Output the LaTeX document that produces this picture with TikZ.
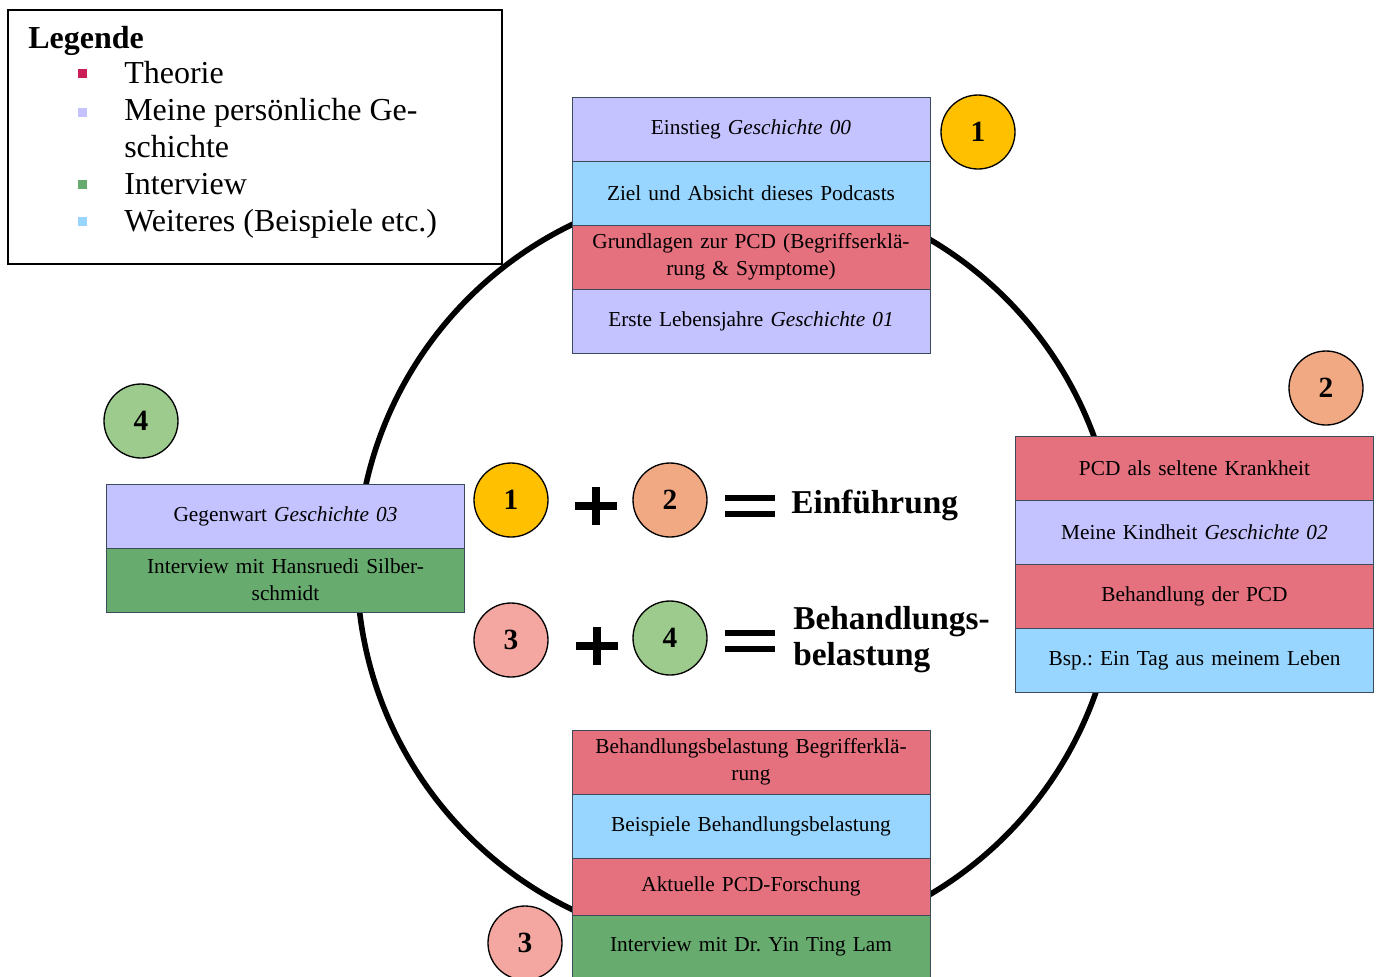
\documentclass[tikz,border=0pt]{standalone}
\usepackage{fontspec}
\setmainfont{Liberation Serif}
\usetikzlibrary{positioning}
\frenchspacing
\definecolor{storylav}{RGB}{196,194,255}
\definecolor{extrablue}{RGB}{153,214,255}
\definecolor{theoryred}{RGB}{229,112,126}
\definecolor{talkgreen}{RGB}{103,171,111}
\definecolor{theorymark}{RGB}{204,30,86}
\definecolor{boxline}{RGB}{60,75,90}
\definecolor{dotyellow}{RGB}{255,192,0}
\definecolor{dotorange}{RGB}{241,169,131}
\definecolor{dotpink}{RGB}{244,167,160}
\definecolor{dotgreen}{RGB}{157,203,141}
\tikzset{
  rowbox/.style={draw=boxline, line width=0.7pt, minimum width=268.5pt, minimum height=48pt,
    text width=262pt, align=center, inner sep=0pt, outer sep=0pt,
    font=\fontsize{16}{20}\selectfont},
  numdot/.style={circle, draw, line width=1pt, minimum size=55.5pt, inner sep=0pt,
    font=\fontsize{22}{22}\selectfont\bfseries},
  legtext/.style={anchor=base west, inner sep=0pt, font=\fontsize{24}{27.75}\selectfont},
  legmark/.style={inner sep=0pt, minimum size=6.75pt},
  opbar/.style={line width=6.2pt},
  eqbar/.style={line width=4.8pt},
}

\begin{document}
\begin{tikzpicture}[x=0.75pt, y=-0.75pt]
\clip (0,0) rectangle (1378,976);

% ring behind the boxes
\coordinate (hub) at (737,567);
\draw[line width=4.2pt] (hub) circle[radius=285pt];

% legend
\node[draw, line width=1.4pt, anchor=north west, minimum width=370.5pt, minimum height=190.5pt] (legend) at (7,9) {};
\node[legtext, font=\fontsize{24}{27.75}\selectfont\bfseries] (legtitle) at (28,48) {Legende};
\node[legmark, fill=theorymark] (mark1) at (82,73) {};
\node[legmark, fill=storylav] (mark2) at (82,112) {};
\node[legmark, fill=talkgreen] (mark3) at (82,184) {};
\node[legmark, fill=extrablue] (mark4) at (82,221) {};
\node[legtext] (legtheory) at (124,83) {Theorie};
\node[legtext, align=left] (legstory) at (124,157) {Meine persönliche Ge-\\schichte};
\node[legtext] (legtalk) at (124,194) {Interview};
\node[legtext] (legmore) at (124,231) {Weiteres (Beispiele etc.)};

% part 1 (top)
\node[rowbox, fill=storylav, anchor=north] (t1) at (751,97) {Einstieg \textit{Geschichte 00}};
\node[rowbox, fill=extrablue, below=0pt of t1] (t2) {Ziel und Absicht dieses Podcasts};
\node[rowbox, fill=theoryred, below=0pt of t2] (t3) {Grundlagen zur PCD (Begriffserklä-\\rung \& Symptome)};
\node[rowbox, fill=storylav, below=0pt of t3] (t4) {Erste Lebensjahre \textit{Geschichte 01}};
\node[numdot, fill=dotyellow] (n1) at (978,132) {1};

% part 2 (right)
\node[rowbox, fill=theoryred, anchor=north] (r1) at (1194.5,436) {PCD als seltene Krankheit};
\node[rowbox, fill=storylav, below=0pt of r1] (r2) {Meine Kindheit \textit{Geschichte 02}};
\node[rowbox, fill=theoryred, below=0pt of r2] (r3) {Behandlung der PCD};
\node[rowbox, fill=extrablue, below=0pt of r3] (r4) {Bsp.: Ein Tag aus meinem Leben};
\node[numdot, fill=dotorange] (n2) at (1326,388) {2};

% part 3 (bottom)
\node[rowbox, fill=theoryred, anchor=north] (b1) at (751,730) {Behandlungsbelastung Begrifferklä-\\rung};
\node[rowbox, fill=extrablue, below=0pt of b1] (b2) {Beispiele Behandlungsbelastung};
\node[rowbox, fill=theoryred, minimum height=42.75pt, below=0pt of b2] (b3) {Aktuelle PCD-Forschung};
\node[rowbox, fill=talkgreen, below=0pt of b3] (b4) {Interview mit Dr. Yin Ting Lam};
\node[numdot, fill=dotpink] (n3) at (525,943) {3};

% part 4 (left)
\node[rowbox, fill=storylav, anchor=north] (l1) at (285.5,484) {Gegenwart \textit{Geschichte 03}};
\node[rowbox, fill=talkgreen, below=0pt of l1] (l2) {Interview mit Hansruedi Silber-\\schmidt};
\node[numdot, fill=dotgreen] (n4) at (141,421) {4};

% sums in the middle
\node[numdot, fill=dotyellow] (s1) at (511,500) {1};
\node[numdot, fill=dotorange] (s2) at (670,500) {2};
\node[numdot, fill=dotpink] (s3) at (511,640) {3};
\node[numdot, fill=dotgreen] (s4) at (670,638) {4};
\coordinate (plusA) at (596,506);
\coordinate (plusB) at (597,646);
\coordinate (eqA) at (750,506);
\coordinate (eqB) at (750,641);
\foreach \p in {plusA,plusB}{
  \draw[opbar] ([xshift=-15.75pt]\p) -- ([xshift=15.75pt]\p);
  \draw[opbar] ([yshift=-14.25pt]\p) -- ([yshift=14.25pt]\p);
}
\foreach \e in {eqA,eqB}{
  \draw[eqbar] ([xshift=-18.4pt,yshift=6pt]\e) -- ([xshift=18.4pt,yshift=6pt]\e);
  \draw[eqbar] ([xshift=-18.4pt,yshift=-6pt]\e) -- ([xshift=18.4pt,yshift=-6pt]\e);
}
\node[anchor=west, inner sep=0pt, font=\fontsize{25}{27}\selectfont\bfseries] (intro) at (791,505) {Einführung};
\node[anchor=west, inner sep=0pt, align=left, font=\fontsize{25}{27}\selectfont\bfseries] (burden) at (793,640) {Behandlungs-\\belastung};
\end{tikzpicture}
\end{document}
